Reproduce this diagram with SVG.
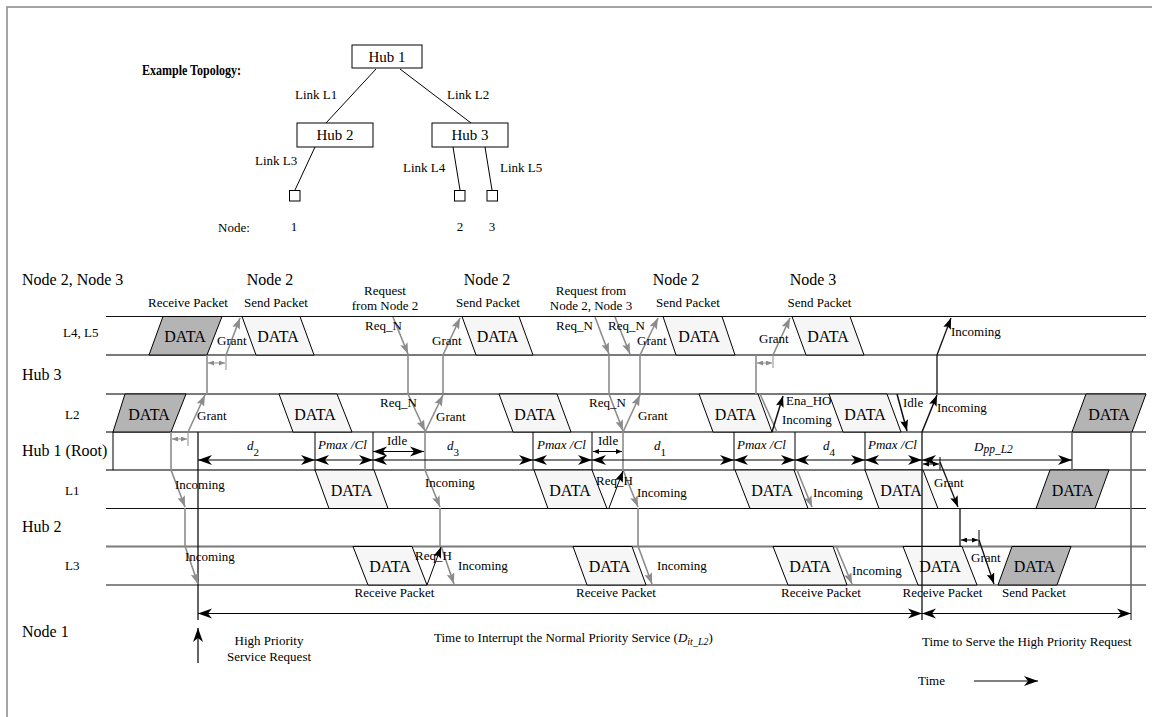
<svg xmlns="http://www.w3.org/2000/svg" width="1152" height="717" viewBox="0 0 1152 717">
  <style>
    text { font-family: "Liberation Serif", "Times New Roman", serif; fill: #000; }
    .t16 { font-size: 16px; }
    .t13 { font-size: 13px; }
    .data { font-size: 16px; text-anchor: middle; }
    .mid { text-anchor: middle; }
    .it { font-style: italic; }
    .bold { font-weight: bold; }
    .box { fill: #fff; stroke: #000; stroke-width: 1; }
    .k { stroke: #000; stroke-width: 1; fill: none; }
    .kk { stroke: #111; stroke-width: 1.3; fill: none; }
    .g { stroke: #8c8c8c; stroke-width: 1.6; fill: none; }
    .band-k { stroke: #111; stroke-width: 1.2; }
    .band-g { stroke: #7a7a7a; stroke-width: 1.8; }
    .pk-light { fill: #f6f6f6; stroke: #000; stroke-width: 1; }
    .pk-dark { fill: #b4b4b4; stroke: #000; stroke-width: 1; }
    .dim { stroke: #000; stroke-width: 1.2; fill: none; marker-start: url(#hd); marker-end: url(#hd); }
    .ga { marker-end: url(#hg); }
    .ka { marker-end: url(#hk); }
    .gs { stroke: #8c8c8c; stroke-width: 1; fill: none; marker-start: url(#hs); marker-end: url(#hs); }
    .ks { stroke: #000; stroke-width: 1; fill: none; marker-start: url(#hks); marker-end: url(#hks); }
  </style>
  <defs>
    <!-- barbed black head for dimension arrows -->
    <marker id="hd" markerUnits="userSpaceOnUse" markerWidth="15" markerHeight="11" refX="14" refY="5.5" orient="auto-start-reverse">
      <path d="M0,0.5 L14,5.5 L0,10.5 L4,5.5 z" fill="#000"/>
    </marker>
    <!-- gray head for signalling arrows -->
    <marker id="hg" markerUnits="userSpaceOnUse" markerWidth="12" markerHeight="8" refX="11" refY="4" orient="auto">
      <path d="M0,0 L11,4 L0,8 L2,4 z" fill="#8c8c8c"/>
    </marker>
    <!-- black head for signalling arrows -->
    <marker id="hk" markerUnits="userSpaceOnUse" markerWidth="12" markerHeight="8" refX="11" refY="4" orient="auto">
      <path d="M0,0 L11,4 L0,8 L2,4 z" fill="#000"/>
    </marker>
    <!-- small heads for short gap markers -->
    <marker id="hs" markerUnits="userSpaceOnUse" markerWidth="7" markerHeight="5" refX="6" refY="2.5" orient="auto-start-reverse">
      <path d="M0,0 L6,2.5 L0,5 z" fill="#8c8c8c"/>
    </marker>
    <marker id="hks" markerUnits="userSpaceOnUse" markerWidth="7" markerHeight="5" refX="6" refY="2.5" orient="auto-start-reverse">
      <path d="M0,0 L6,2.5 L0,5 z" fill="#000"/>
    </marker>
  </defs>

  <rect x="0" y="0" width="1152" height="717" fill="#fff"/>
  <rect x="7" y="7" width="1150" height="715" fill="none" stroke="#888" stroke-width="1.5"/>

  <!-- ===== Example topology ===== -->
  <text class="bold" x="142" y="75" style="font-size:14px" textLength="99" lengthAdjust="spacingAndGlyphs">Example Topology:</text>

  <g id="topology-links">
    <line class="k" x1="376" y1="69" x2="326" y2="123"/>
    <line class="k" x1="400" y1="69" x2="471" y2="123"/>
    <line class="k" x1="315" y1="147" x2="295" y2="190"/>
    <line class="k" x1="453" y1="147" x2="460" y2="190"/>
    <line class="k" x1="485" y1="147" x2="492" y2="190"/>
    <text class="t13" x="295" y="99">Link L1</text>
    <text class="t13" x="447" y="99">Link L2</text>
    <text class="t13" x="255" y="165">Link L3</text>
    <text class="t13" x="403" y="172">Link L4</text>
    <text class="t13" x="500" y="172">Link L5</text>
  </g>
  <g id="hub1"><rect class="box" x="352" y="45" width="70" height="23"/><text class="mid" x="387" y="62" style="font-size:15px">Hub 1</text></g>
  <g id="hub2"><rect class="box" x="297" y="123" width="76" height="24"/><text class="mid" x="335" y="140" style="font-size:15px">Hub 2</text></g>
  <g id="hub3"><rect class="box" x="432" y="123" width="76" height="24"/><text class="mid" x="470" y="140" style="font-size:15px">Hub 3</text></g>
  <g id="node1"><rect class="box" x="289.5" y="190.5" width="10.5" height="10.5"/><text class="mid" x="294" y="231" style="font-size:13px">1</text></g>
  <g id="node2"><rect class="box" x="454.5" y="190.5" width="10.5" height="10.5"/><text class="mid" x="460" y="231" style="font-size:13px">2</text></g>
  <g id="node3"><rect class="box" x="487" y="190.5" width="10.5" height="10.5"/><text class="mid" x="492" y="231" style="font-size:13px">3</text></g>
  <text x="218" y="232" style="font-size:13px">Node:</text>

  <!-- ===== Timing chart: row labels ===== -->
  <g id="row-labels">
    <text class="t16" x="22" y="285">Node 2, Node 3</text>
    <text class="t13" x="63" y="337">L4, L5</text>
    <text class="t16" x="22" y="380">Hub 3</text>
    <text class="t13" x="65" y="419">L2</text>
    <text class="t16" x="22" y="456">Hub 1 (Root)</text>
    <text class="t13" x="65" y="495">L1</text>
    <text class="t16" x="22" y="532">Hub 2</text>
    <text class="t13" x="65" y="570">L3</text>
    <text class="t16" x="22" y="637">Node 1</text>
  </g>

  <!-- link band boundaries -->
  <g id="bands">
    <line class="band-k" x1="106" y1="316.5" x2="1146" y2="316.5"/>
    <line class="band-g" x1="106" y1="355" x2="1146" y2="355"/>
    <line class="band-g" x1="106" y1="394" x2="1146" y2="394"/>
    <line class="band-g" x1="106" y1="432" x2="1146" y2="432"/>
    <line class="band-g" x1="106" y1="470" x2="1146" y2="470"/>
    <line class="band-k" x1="106" y1="508.5" x2="1146" y2="508.5"/>
    <line class="band-g" x1="106" y1="546.5" x2="1146" y2="546.5"/>
    <line class="band-k" x1="106" y1="585" x2="1146" y2="585"/>
  </g>

  <!-- event labels above the chart -->
  <g id="top-labels">
    <text class="t16 mid" x="270" y="285">Node 2</text>
    <text class="t16 mid" x="487" y="285">Node 2</text>
    <text class="t16 mid" x="676" y="285">Node 2</text>
    <text class="t16 mid" x="813" y="285">Node 3</text>
    <text class="t13 mid" x="188" y="306.5">Receive Packet</text>
    <text class="t13 mid" x="276" y="306.5">Send Packet</text>
    <text class="t13 mid" x="385" y="295">Request</text>
    <text class="t13 mid" x="385" y="310">from Node 2</text>
    <text class="t13 mid" x="488" y="306.5">Send Packet</text>
    <text class="t13 mid" x="591" y="295">Request from</text>
    <text class="t13 mid" x="591" y="310">Node 2, Node 3</text>
    <text class="t13 mid" x="688" y="306.5">Send Packet</text>
    <text class="t13 mid" x="819.5" y="306.5">Send Packet</text>
  </g>

  <!-- packets -->
  <g id="packets">
    <!-- L4, L5 -->
    <polygon class="pk-dark" points="163,316.5 222,316.5 207,355 149,355"/>
    <polygon class="pk-light" points="242,316.5 300,316.5 314,355 256,355"/>
    <polygon class="pk-light" points="462,316.5 519,316.5 533,355 476,355"/>
    <polygon class="pk-light" points="663,316.5 722,316.5 735,355 676,355"/>
    <polygon class="pk-light" points="792,316.5 850,316.5 864,355 806,355"/>
    <!-- L2 -->
    <polygon class="pk-dark" points="125,394 186,394 171,432 113,432"/>
    <polygon class="pk-light" points="279,394 337,394 352,432 293,432"/>
    <polygon class="pk-light" points="499,394 557,394 571,432 513,432"/>
    <polygon class="pk-light" points="699,394 758,394 772,432 713,432"/>
    <polygon class="pk-light" points="829,394 887,394 901,432 843,432"/>
    <polygon class="pk-dark" points="1086,394 1146,394 1132,432 1072,432"/>
    <!-- L1 -->
    <polygon class="pk-light" points="315,470 374,470 388,508.5 329,508.5"/>
    <polygon class="pk-light" points="534,470 592,470 607,508.5 548,508.5"/>
    <polygon class="pk-light" points="735,470 794,470 808,508.5 750,508.5"/>
    <polygon class="pk-light" points="865,470 923,470 938,508.5 879,508.5"/>
    <polygon class="pk-dark" points="1050,470 1109,470 1095,508.5 1036,508.5"/>
    <!-- L3 -->
    <polygon class="pk-light" points="353,546.5 412,546.5 427,585 368,585"/>
    <polygon class="pk-light" points="573,546.5 632,546.5 646,585 587,585"/>
    <polygon class="pk-light" points="773,546.5 833,546.5 847,585 788,585"/>
    <polygon class="pk-light" points="903,546.5 962,546.5 977,585 918,585"/>
    <polygon class="pk-dark" points="1012,546.5 1071,546.5 1057,585 998,585"/>

    <text class="data" x="185" y="341.5">DATA</text>
    <text class="data" x="278" y="341.5">DATA</text>
    <text class="data" x="497.5" y="341.5">DATA</text>
    <text class="data" x="699" y="341.5">DATA</text>
    <text class="data" x="828" y="341.5">DATA</text>
    <text class="data" x="149" y="419.5">DATA</text>
    <text class="data" x="315" y="419.5">DATA</text>
    <text class="data" x="535" y="419.5">DATA</text>
    <text class="data" x="735.5" y="419.5">DATA</text>
    <text class="data" x="865" y="419.5">DATA</text>
    <text class="data" x="1109" y="419.5">DATA</text>
    <text class="data" x="351.5" y="495.5">DATA</text>
    <text class="data" x="570" y="495.5">DATA</text>
    <text class="data" x="772" y="495.5">DATA</text>
    <text class="data" x="901" y="495.5">DATA</text>
    <text class="data" x="1072.5" y="495.5">DATA</text>
    <text class="data" x="390" y="571.5">DATA</text>
    <text class="data" x="609.5" y="571.5">DATA</text>
    <text class="data" x="810" y="571.5">DATA</text>
    <text class="data" x="940" y="571.5">DATA</text>
    <text class="data" x="1034.5" y="571.5">DATA</text>
  </g>

  <!-- Hub 1 row boundaries and long time markers -->
  <g id="time-marks">
    <line class="k" x1="113" y1="432" x2="113" y2="470"/>
    <line class="kk" x1="198" y1="432" x2="198" y2="620"/>
    <line class="k" x1="315" y1="432" x2="315" y2="470"/>
    <line class="k" x1="373" y1="432" x2="373" y2="470"/>
    <line class="k" x1="533" y1="432" x2="533" y2="470"/>
    <line class="k" x1="592" y1="432" x2="592" y2="470"/>
    <line class="k" x1="734" y1="432" x2="734" y2="470"/>
    <line class="k" x1="795" y1="432" x2="795" y2="470"/>
    <line class="k" x1="865" y1="432" x2="865" y2="470"/>
    <line class="kk" x1="922" y1="432" x2="922" y2="620"/>
    <line class="g" x1="1072" y1="432" x2="1072" y2="470" style="stroke:#666"/>
    <line class="g" x1="1131" y1="432" x2="1131" y2="620" style="stroke:#666"/>
  </g>

  <!-- connectors: requests, grants and incoming transfers -->
  <g id="connectors">
    <!-- first high priority request path -->
    <line class="g ga" x1="188" y1="432" x2="205" y2="395"/>
    <line class="g" x1="207" y1="394" x2="207" y2="355"/>
    <line class="g ga" x1="226" y1="355" x2="240" y2="318"/>
    <line class="gs" x1="208" y1="363" x2="225" y2="363"/>
    <line class="g" x1="226" y1="355" x2="226" y2="370" style="stroke-width:1"/>
    <line class="gs" x1="172" y1="439" x2="187" y2="439"/>
    <line class="g" x1="188" y1="432" x2="188" y2="446" style="stroke-width:1"/>
    <line class="g" x1="171" y1="432" x2="171" y2="470"/>
    <line class="g ga" x1="171" y1="470" x2="185" y2="507"/>
    <line class="g" x1="185" y1="508" x2="185" y2="546"/>
    <line class="g ga" x1="185" y1="546" x2="198" y2="584"/>

    <!-- request from node 2 -->
    <line class="g ga" x1="393" y1="317" x2="408" y2="354"/>
    <line class="g" x1="408" y1="355" x2="408" y2="394"/>
    <line class="g ga" x1="408" y1="394" x2="425" y2="431"/>
    <line class="g ga" x1="425" y1="432" x2="443" y2="395"/>
    <line class="g" x1="443" y1="394" x2="443" y2="355"/>
    <line class="g ga" x1="443" y1="355" x2="460" y2="318"/>
    <line class="g" x1="425" y1="432" x2="425" y2="470"/>
    <line class="g ga" x1="425" y1="470" x2="440" y2="507"/>
    <line class="g" x1="440" y1="508" x2="440" y2="546"/>
    <line class="g ga" x1="441" y1="546" x2="454" y2="584"/>
    <line class="k ka" x1="427" y1="585" x2="441" y2="547"/>

    <!-- requests from node 2 and node 3 -->
    <line class="g ga" x1="595" y1="317" x2="609" y2="354"/>
    <line class="g ga" x1="615" y1="317" x2="630" y2="354"/>
    <line class="g" x1="609" y1="355" x2="609" y2="394"/>
    <line class="g ga" x1="609" y1="394" x2="623" y2="431"/>
    <line class="g ga" x1="623" y1="432" x2="640" y2="395"/>
    <line class="g" x1="640" y1="394" x2="640" y2="355"/>
    <line class="g ga" x1="640" y1="355" x2="658" y2="318"/>
    <line class="g" x1="623" y1="432" x2="623" y2="470"/>
    <line class="g ga" x1="623" y1="470" x2="638" y2="507"/>
    <line class="k ka" x1="609" y1="508" x2="623" y2="471"/>
    <line class="g" x1="638" y1="508" x2="638" y2="546"/>
    <line class="g ga" x1="638" y1="546" x2="652" y2="584"/>

    <!-- grant to node 3 and hand-over -->
    <line class="g" x1="756" y1="355" x2="756" y2="394"/>
    <line class="gs" x1="757" y1="363" x2="772" y2="363"/>
    <line class="g" x1="773" y1="355" x2="773" y2="368" style="stroke-width:1"/>
    <line class="g ga" x1="773" y1="355" x2="790" y2="318"/>
    <line class="g" x1="760" y1="394" x2="777" y2="432"/>
    <line class="kk ka" x1="772" y1="432" x2="783" y2="396" style="stroke-width:1.5"/>
    <line class="g ga" x1="797" y1="470" x2="812" y2="507"/>
    <line class="g ga" x1="836" y1="546" x2="852" y2="584"/>

    <!-- high priority service -->
    <line class="kk ka" x1="897" y1="394" x2="907" y2="431" style="stroke-width:1.5"/>
    <line class="kk ka" x1="922" y1="432" x2="937" y2="395" style="stroke-width:1.5"/>
    <line class="kk" x1="937" y1="394" x2="937" y2="355"/>
    <line class="kk ka" x1="937" y1="355" x2="951" y2="318"/>
    <line class="ks" x1="923" y1="464" x2="939" y2="464"/>
    <line class="k" x1="940" y1="457" x2="940" y2="470"/>
    <line class="kk ka" x1="940" y1="462" x2="958" y2="507"/>
    <line class="kk" x1="960" y1="508" x2="960" y2="546"/>
    <line class="ks" x1="961" y1="540" x2="978" y2="540"/>
    <line class="k" x1="979" y1="530" x2="979" y2="546"/>
    <line class="kk ka" x1="979" y1="540" x2="994" y2="584"/>

    <!-- service request from node 1 -->
    <line class="kk" x1="198" y1="663" x2="198" y2="628" style="marker-end:url(#hd)"/>
  </g>

  <!-- signalling labels -->
  <g id="signal-labels" class="t13">
    <text x="217" y="345">Grant</text>
    <text x="197" y="420">Grant</text>
    <text x="175" y="489">Incoming</text>
    <text x="185" y="561">Incoming</text>
    <text x="365" y="330">Req_N</text>
    <text x="380" y="407">Req_N</text>
    <text x="432" y="345">Grant</text>
    <text x="436" y="421">Grant</text>
    <text x="425" y="487">Incoming</text>
    <text x="415" y="560">Req_H</text>
    <text x="458" y="570">Incoming</text>
    <text x="556" y="330">Req_N</text>
    <text x="608" y="330">Req_N</text>
    <text x="637" y="345">Grant</text>
    <text x="589" y="407">Req_N</text>
    <text x="638" y="420">Grant</text>
    <text x="596" y="485">Req_H</text>
    <text x="637" y="497">Incoming</text>
    <text x="657" y="570">Incoming</text>
    <text x="759" y="343">Grant</text>
    <text x="786" y="405">Ena_HO</text>
    <text x="782" y="424">Incoming</text>
    <text x="813" y="497">Incoming</text>
    <text x="852" y="575">Incoming</text>
    <text x="903" y="407">Idle</text>
    <text x="937" y="412">Incoming</text>
    <text x="951" y="336">Incoming</text>
    <text x="934" y="487">Grant</text>
    <text x="971" y="562">Grant</text>
  </g>

  <!-- Hub 1 intervals -->
  <g id="intervals">
    <line class="dim" x1="198" y1="460" x2="315" y2="460"/>
    <line class="dim" x1="315" y1="460" x2="373" y2="460"/>
    <line class="dim" x1="373" y1="460" x2="533" y2="460"/>
    <line class="dim" x1="533" y1="460" x2="592" y2="460"/>
    <line class="dim" x1="592" y1="460" x2="734" y2="460"/>
    <line class="dim" x1="734" y1="460" x2="795" y2="460"/>
    <line class="dim" x1="795" y1="460" x2="865" y2="460"/>
    <line class="dim" x1="865" y1="460" x2="922" y2="460"/>
    <line class="dim" x1="922" y1="460" x2="1072" y2="460"/>
    <line class="dim" x1="373" y1="451.5" x2="424" y2="451.5"/>
    <line class="ks" x1="593" y1="451.5" x2="622" y2="451.5"/>

    <text class="t13 it" x="247" y="450">d<tspan style="font-size:11px;font-style:normal" dy="6">2</tspan></text>
    <text class="t13 it" x="318" y="449">Pmax /Cl</text>
    <text class="t13" x="387" y="445">Idle</text>
    <text class="t13 it" x="447" y="450">d<tspan style="font-size:11px;font-style:normal" dy="6">3</tspan></text>
    <text class="t13 it" x="537" y="449">Pmax /Cl</text>
    <text class="t13" x="598" y="445">Idle</text>
    <text class="t13 it" x="654" y="450">d<tspan style="font-size:11px;font-style:normal" dy="6">1</tspan></text>
    <text class="t13 it" x="737" y="449">Pmax /Cl</text>
    <text class="t13 it" x="823" y="450">d<tspan style="font-size:11px;font-style:normal" dy="6">4</tspan></text>
    <text class="t13 it" x="868" y="449">Pmax /Cl</text>
    <text class="t13 it" x="974" y="451">D<tspan style="font-size:11.5px" dy="2">pp_L2</tspan></text>
  </g>

  <!-- bottom labels and overall durations -->
  <g id="bottom">
    <text class="t13 mid" x="394.5" y="597">Receive Packet</text>
    <text class="t13 mid" x="616" y="597">Receive Packet</text>
    <text class="t13 mid" x="821" y="597">Receive Packet</text>
    <text class="t13 mid" x="942.5" y="597">Receive Packet</text>
    <text class="t13 mid" x="1034" y="597">Send Packet</text>

    <line class="dim" x1="198" y1="613.5" x2="922" y2="613.5"/>
    <line class="dim" x1="922" y1="613.5" x2="1131" y2="613.5"/>

    <text class="t13 mid" x="269" y="645">High Priority</text>
    <text class="t13 mid" x="269" y="661">Service Request</text>
    <text class="t13" x="434" y="642">Time to Interrupt the Normal Priority Service (<tspan class="it">D</tspan><tspan class="it" style="font-size:10px" dy="3">it_L2</tspan><tspan dy="-3">)</tspan></text>
    <text class="t13" x="922" y="646">Time to Serve the High Priority Request</text>
    <text class="t13" x="918" y="685">Time</text>
    <line class="k" x1="974" y1="681" x2="1038" y2="681" style="marker-end:url(#hd)"/>
  </g>
</svg>
